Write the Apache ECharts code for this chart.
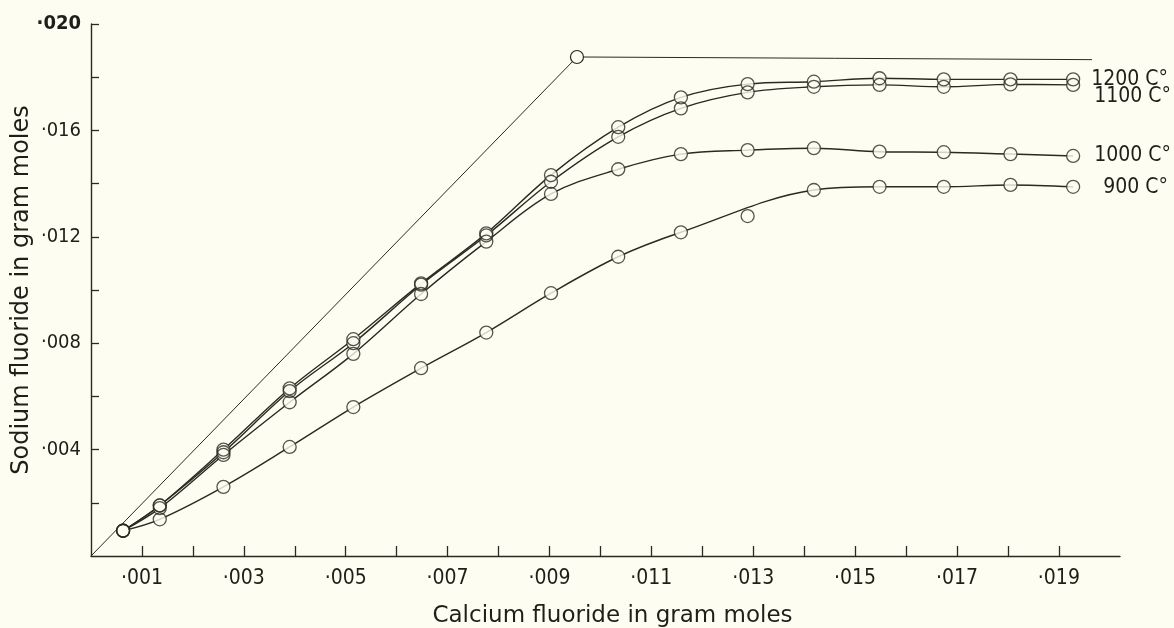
<!DOCTYPE html>
<html><head><meta charset="utf-8">
<script src="https://cdn.jsdelivr.net/npm/echarts@6/dist/echarts.min.js"></script>
<style>html,body{margin:0;padding:0;background:#fdfdf1;} #c{width:1174px;height:628px;}</style>
</head><body><div id="c"></div>
<script>
// ---- data ----
const xValues = [0.00063, 0.00135, 0.0026, 0.0039, 0.00515, 0.00648, 0.00776, 0.00903, 0.01035, 0.01158, 0.01289, 0.01419, 0.01548, 0.01674, 0.01805, 0.01928];
const y1200 = [0.00095, 0.0019, 0.0040, 0.0063, 0.00815, 0.01025, 0.01213, 0.01432, 0.01612, 0.01724, 0.01774, 0.01783, 0.01796, 0.01792, 0.01792, 0.01792];
const y1100 = [0.00095, 0.0019, 0.0039, 0.0062, 0.0080, 0.0102, 0.01205, 0.01407, 0.01576, 0.01683, 0.01743, 0.01764, 0.01771, 0.01764, 0.01773, 0.01771];
const y1000 = [0.00095, 0.0018, 0.0038, 0.00578, 0.0076, 0.00985, 0.01182, 0.01361, 0.01454, 0.01511, 0.01526, 0.01533, 0.0152, 0.01518, 0.01511, 0.01504];
const y900  = [0.00095, 0.00138, 0.0026, 0.0041, 0.0056, 0.00706, 0.0084, 0.00988, 0.01125, 0.01217, 0.01278, 0.01376, 0.01388, 0.01388, 0.01395, 0.01388];
const outlier900Index = 10;           // point of the 900 C° set lying off its drawn curve
const seriesLabels = ['1200 C°', '1100 C°', '1000 C°', '900 C°'];
const boundX = [0, 0.00954, 0.01965]; // theoretical limit line
const boundY = [0, 0.01876, 0.01866];
const xTickValues = [0.001,0.002,0.003,0.004,0.005,0.006,0.007,0.008,0.009,0.010,0.011,0.012,0.013,0.014,0.015,0.016,0.017,0.018,0.019];
const xLabelValues = [0.001,0.003,0.005,0.007,0.009,0.011,0.013,0.015,0.017,0.019];
const yTickValues = [0.002,0.004,0.006,0.008,0.010,0.012,0.014,0.016,0.018,0.020];
const yLabelValues = [0.004,0.008,0.012,0.016,0.020];
const xTitle = 'Calcium fluoride in gram moles';
const yTitle = 'Sodium fluoride in gram moles';

// ---- styling ----
const BG = '#fdfdf1';
const INK = '#2a2a22';
const TXT = '#1f1f1a';
const ySets = [y1200, y1100, y1000, y900];
const labelOffsets = [[0, 0], [3, 12], [3, 0], [12, 1]];

function fmt(v) { return '·' + v.toFixed(3).slice(2); }

const series = [];
// limit line
series.push({
  type: 'line', z: 1, silent: true,
  data: boundX.map((x, i) => [x, boundY[i]]),
  symbol: 'circle', symbolSize: (v, p) => p.dataIndex === 1 ? 13 : 0,
  itemStyle: { color: BG, borderColor: INK, borderWidth: 1.2 },
  lineStyle: { color: INK, width: 1 }
});
// curves
ySets.forEach((ys, k) => {
  const pts = [];
  xValues.forEach((x, i) => { if (!(k === 3 && i === outlier900Index)) pts.push([x, ys[i]]); });
  series.push({
    type: 'line', z: 1, silent: true, smooth: 0.35,
    data: pts, symbol: 'none',
    lineStyle: { color: INK, width: 1.4 },
    endLabel: {
      show: true, formatter: seriesLabels[k], distance: 18, offset: labelOffsets[k],
      color: TXT, fontFamily: 'DejaVu Sans Condensed', fontSize: 21
    }
  });
});
// point masks and outlines (hollow circles)
const allPts = [];
ySets.forEach(ys => xValues.forEach((x, i) => allPts.push([x, ys[i]])));
series.push({
  type: 'scatter', z: 2, silent: true, data: allPts, symbolSize: 13,
  itemStyle: { color: BG, borderWidth: 0 }
});
series.push({
  type: 'scatter', z: 3, silent: true, data: allPts, symbolSize: 13,
  itemStyle: { color: 'rgba(0,0,0,0)', borderColor: INK, borderWidth: 1.3 }
});

const chart = echarts.init(document.getElementById('c'), null, { renderer: 'canvas' });
chart.setOption({
  backgroundColor: BG,
  animation: false,
  grid: { left: 91, right: 54, top: 24, bottom: 72, containLabel: false, outerBoundsMode: 'none' },
  xAxis: {
    type: 'value', min: 0, max: 0.0202,
    name: xTitle, nameLocation: 'middle', nameGap: 49, nameMoveOverlap: false,
    nameTextStyle: { color: TXT, fontFamily: 'DejaVu Sans', fontSize: 23, padding: [0, 0, 0, 14] },
    axisLine: { show: true, lineStyle: { color: INK, width: 1.4 } },
    axisTick: { show: true, inside: true, length: 10, customValues: xTickValues, lineStyle: { color: INK, width: 1.3 } },
    axisLabel: { customValues: xLabelValues, formatter: fmt, margin: 12, color: TXT, fontFamily: 'DejaVu Sans Condensed', fontSize: 21 },
    splitLine: { show: false }
  },
  yAxis: {
    type: 'value', min: 0, max: 0.020,
    name: yTitle, nameLocation: 'middle', nameGap: 57, nameMoveOverlap: false,
    nameTextStyle: { color: TXT, fontFamily: 'DejaVu Sans', fontSize: 24 },
    axisLine: { show: true, lineStyle: { color: INK, width: 1.4 } },
    axisTick: { show: true, inside: true, length: 8, customValues: yTickValues, lineStyle: { color: INK, width: 1.3 } },
    axisLabel: {
      customValues: yLabelValues, margin: 10, color: TXT, fontFamily: 'DejaVu Sans Condensed', fontSize: 20,
      formatter: v => v > 0.0199 ? '{b|' + fmt(v) + '}' : fmt(v),
      rich: { b: { fontWeight: 'bold', fontFamily: 'DejaVu Sans Condensed', fontSize: 20, color: TXT } }
    },
    splitLine: { show: false }
  },
  series: series
});
</script></body></html>
